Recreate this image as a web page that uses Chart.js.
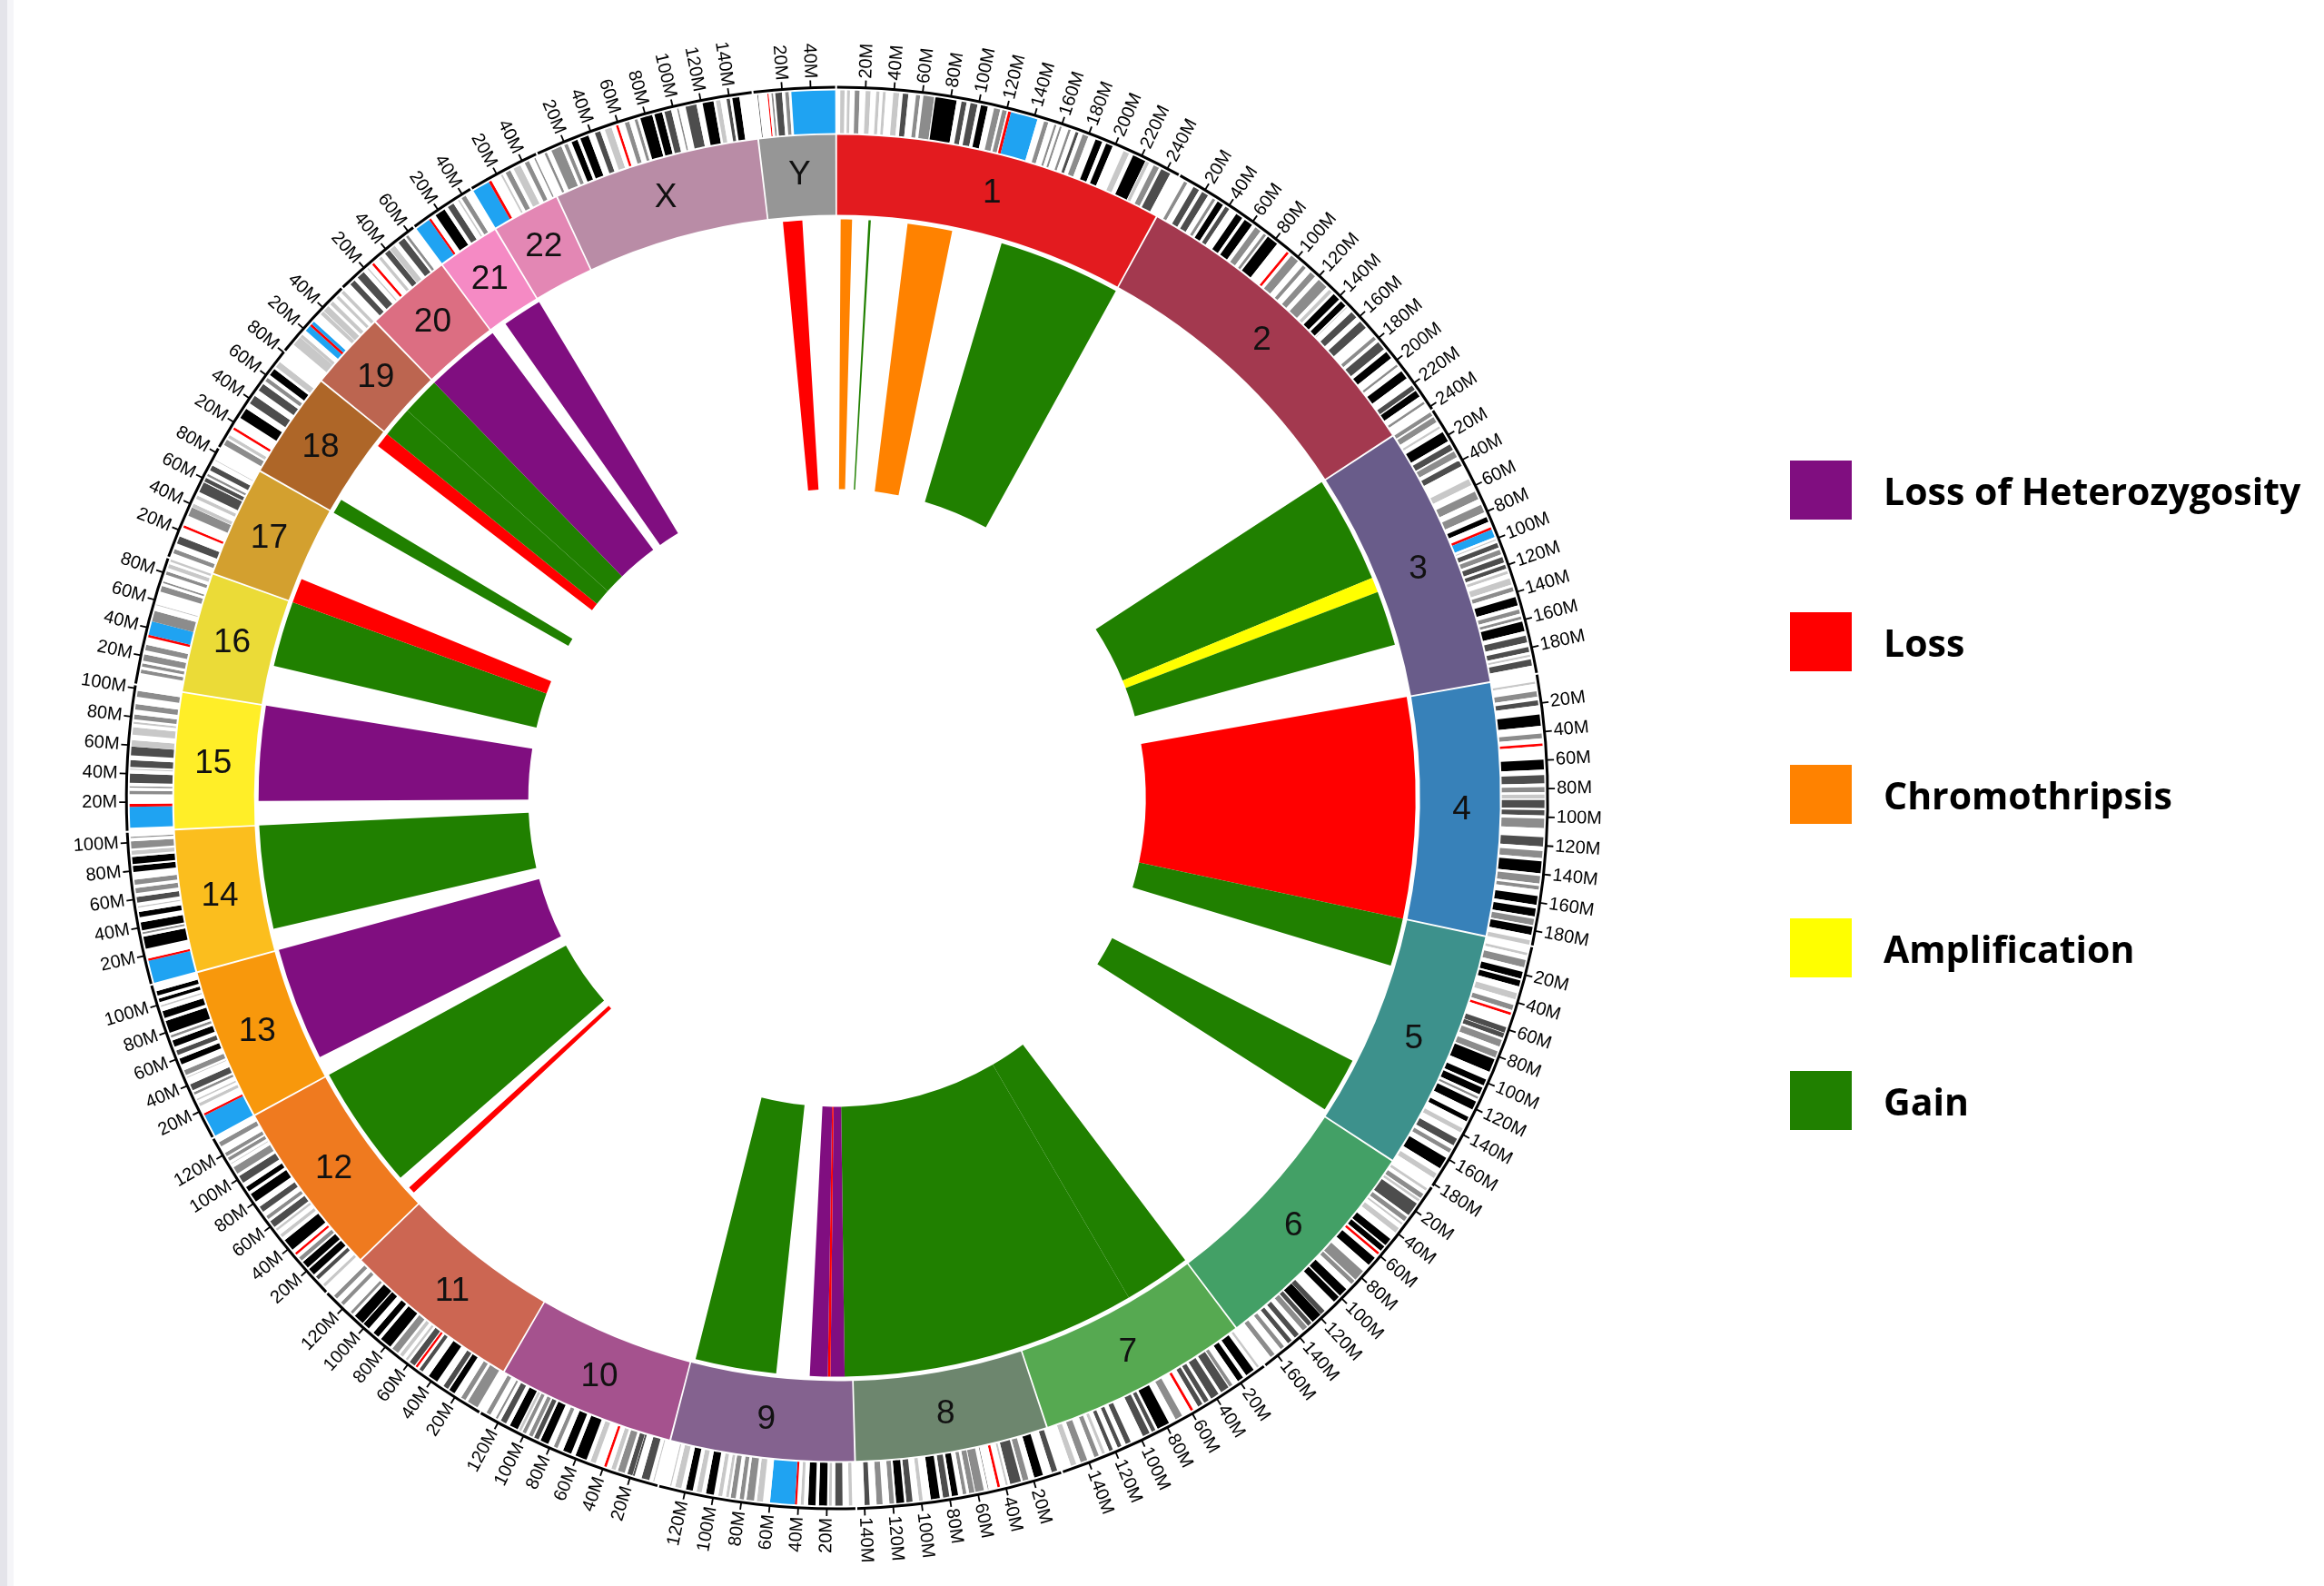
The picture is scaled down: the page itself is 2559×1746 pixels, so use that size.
<!DOCTYPE html>
<html>
<head>
<meta charset="utf-8">
<script src="https://cdn.jsdelivr.net/npm/chart.js@4.4.1/dist/chart.umd.min.js"></script>
<style>
html,body{margin:0;padding:0;background:#ffffff;width:2559px;height:1746px;overflow:hidden;}
#wrap{position:relative;width:2559px;height:1746px;}
#c{position:absolute;left:0;top:0;}
.edge1{position:absolute;left:0;top:0;width:8px;height:1746px;background:#e4e4ea;}
.edge2{position:absolute;left:8px;top:0;width:7px;height:1746px;background:#f5f5f8;}
#legend{position:absolute;left:1971px;top:0;font-family:"Open Sans",sans-serif;font-weight:700;font-size:41px;color:#000;}
.item{position:absolute;left:0;height:65px;display:flex;align-items:center;white-space:nowrap;}
.sw{width:68px;height:65px;margin-right:35px;flex:none;}
</style>
</head>
<body>
<div id="wrap">
  <div class="edge1"></div><div class="edge2"></div>
  <canvas id="c" width="2559" height="1746"></canvas>
  <div id="legend"></div>
</div>
<script>
// ---------------- DATA ----------------
const chromosomes = ['1','2','3','4','5','6','7','8','9','10','11','12','13','14','15','16','17','18','19','20','21','22','X','Y'];
const chromLengths = [248.96,242.19,198.30,190.21,181.54,170.81,159.35,145.14,138.39,133.80,135.09,133.28,114.36,107.04,101.99,90.34,83.26,80.37,58.62,64.44,46.71,50.82,156.04,57.23]; // Mb
const chromColors = ['#e31b1f','#a3394f','#695c8a','#3781b9','#3d918c','#43a066','#56a951','#6d866e','#84628f','#a5528e','#cc6652','#ef7a1f','#f8980c','#fbbe1e','#ffee28','#ebdb37','#d3a02f','#ae6628','#bc6550','#dc6e82','#f58ac4','#e387b4','#b98ca6','#969696'];
const gapMb = 1.3;        // gap between chromosomes, in Mb
const tickStep = 20;      // Mb between ticks

// cytobands: "end stain ..." (w=gneg,1=gpos25,2=gpos50,3=gpos75,4=gpos100,a=acen,v=gvar/stalk)
const cyto_1  = "2.3 w 5.3 1 7.1 w 9.1 1 12.5 w 15.9 2 20.1 w 23.6 1 27.6 w 29.9 1 32.3 w 34.3 1 39.6 w 43.7 1 46.3 w 50.2 3 55.6 w 58.5 2 60.8 w 68.5 2 69.3 w 84.4 4 87.9 w 91.5 3 94.3 w 99.3 3 101.8 w 106.7 4 111.2 w 115.6 2 117.2 w 120.4 2 121.4 w 123.4 a 142.6 v 147.5 w 150.6 2 155.1 w 156.6 2 159.1 w 160.5 2 165.5 w 167.2 2 170.9 w 173.0 3 176.1 w 180.3 2 185.8 w 190.8 4 193.8 w 198.7 4 207.1 w 211.3 1 214.4 w 223.9 4 224.4 w 226.8 1 230.5 w 234.6 2 236.4 w 243.5 3 248.96 w";
const cyto_2  = "4.4 w 6.9 2 12.0 w 16.5 3 19.0 w 23.8 3 27.7 w 29.8 2 31.8 w 36.3 4 38.3 w 41.5 3 47.5 w 52.6 4 54.7 w 61.0 4 63.9 w 68.4 2 71.3 w 73.3 2 74.8 w 83.1 4 91.8 w 93.6 a 96.0 w 102.1 2 105.3 w 106.7 w 109.4 2 113.8 w 118.1 2 121.6 w 129.1 2 131.7 w 134.3 1 136.1 w 141.5 4 143.4 w 147.9 4 149.0 w 149.6 1 154.0 w 158.9 3 162.9 w 168.9 3 177.1 w 179.7 2 182.1 w 188.5 3 191.1 w 196.6 4 202.5 w 204.1 2 208.2 w 214.5 4 220.7 w 224.3 3 225.2 w 230.1 4 234.7 w 236.4 2 242.19 w";
const cyto_3  = "2.8 2 4.0 w 8.1 2 11.6 w 13.2 1 16.3 w 23.8 4 26.3 w 30.8 3 32.0 w 36.5 2 39.3 w 43.6 3 54.0 w 58.6 1 63.8 w 69.7 2 74.1 w 79.8 2 83.5 w 87.1 4 89.0 w 91.2 w 93.0 a 98.6 v 100.3 w 101.2 1 103.1 w 106.5 3 108.2 w 111.6 2 113.7 w 117.6 3 119.3 w 122.2 3 124.1 w 126.1 1 129.5 w 134.0 1 136.0 w 139.0 2 143.1 w 149.2 4 152.3 w 155.3 2 157.3 w 159.3 2 161.0 w 167.9 4 171.2 w 176.0 3 179.3 w 183.0 3 184.8 w 186.3 1 188.2 w 192.6 3 198.3 w";
const cyto_4  = "4.5 w 6.0 1 11.3 w 15.2 2 17.8 w 21.3 3 27.7 w 35.8 4 41.2 w 44.6 2 48.2 w 50.0 a 59.5 w 66.6 4 70.5 w 76.3 3 78.9 w 82.4 2 84.1 w 86.9 1 88.0 w 93.7 3 95.1 w 98.8 3 101.1 w 107.7 2 114.1 w 120.6 3 123.8 w 128.8 2 131.1 w 139.5 4 141.5 w 146.8 2 148.5 w 151.1 2 155.6 w 161.8 4 164.5 w 170.1 4 171.9 w 176.3 2 177.5 w 183.2 4 187.1 w 190.21 1";
const cyto_5  = "4.5 w 6.3 1 9.8 w 15.0 2 18.4 w 23.3 4 24.6 w 28.9 4 33.8 w 38.4 1 42.5 w 46.1 2 48.0 w 49.8 a 58.9 w 62.9 3 63.2 w 66.7 3 68.4 w 73.3 2 76.9 w 81.4 2 82.8 w 92.3 4 98.2 w 102.8 4 104.5 w 109.6 4 111.5 w 113.1 2 115.2 w 121.4 4 127.3 w 130.6 4 136.2 w 139.5 1 144.5 w 149.8 3 152.7 w 155.7 2 159.9 w 168.5 4 172.8 w 176.6 1 181.54 w";
const cyto_6  = "2.3 w 4.2 1 7.1 w 10.6 2 11.6 w 13.4 1 15.2 w 25.2 3 27.0 w 30.4 2 32.1 w 33.5 1 36.6 w 40.5 1 46.2 w 51.8 4 52.9 w 57.0 4 58.5 w 60.3 a 63.4 w 70.0 4 75.9 w 83.9 2 84.9 w 88.0 2 93.1 w 99.5 4 100.6 w 105.5 4 114.6 w 118.3 3 118.5 w 126.1 4 127.1 w 130.3 3 131.2 w 135.2 2 139.0 w 142.8 3 145.6 w 149.0 3 152.5 w 155.5 2 161.0 w 164.5 2 170.81 w";
const cyto_7  = "2.8 w 4.5 1 7.3 w 13.8 4 16.5 w 20.9 4 25.5 w 28.0 2 28.8 w 35.0 3 37.2 w 43.3 3 45.4 w 49.0 3 50.5 w 54.0 3 58.1 w 60.0 a 67.0 w 72.2 2 77.5 w 86.4 4 88.2 w 91.1 3 92.8 w 98.0 3 107.4 w 111.2 3 114.6 w 117.4 3 121.1 w 123.8 3 127.1 w 129.2 1 131.8 w 135.1 2 140.5 w 145.4 2 148.7 w 152.6 1 159.35 w";
const cyto_8  = "2.2 w 6.2 3 12.7 w 19.0 4 23.3 w 27.4 2 28.8 w 36.5 3 38.3 w 39.7 1 43.9 w 45.7 a 52.2 w 52.6 3 55.5 w 61.6 2 62.2 w 66.0 2 68.0 w 70.5 2 73.9 w 78.3 4 80.1 w 84.6 3 86.9 w 93.3 4 99.0 w 101.6 1 106.2 w 110.5 3 112.1 w 117.7 4 119.2 w 122.5 2 127.3 w 131.5 2 136.4 w 139.9 3 145.14 w";
const cyto_9  = "2.2 w 4.6 1 9.0 w 14.2 3 16.6 w 18.5 1 19.9 w 25.6 4 28.0 w 33.2 4 36.3 w 38.4 1 41.0 w 42.5 a 60.0 v 65.0 w 69.3 1 71.3 w 76.6 2 78.5 w 81.5 2 84.3 w 87.8 2 89.2 w 91.2 1 93.9 w 96.6 1 99.8 w 105.4 4 108.5 w 112.1 1 114.9 w 119.8 4 123.1 w 127.5 1 130.3 w 131.2 1 138.39 w";
const cyto_10 = "3.0 w 3.8 1 6.6 w 12.2 3 17.3 w 18.6 3 18.9 w 22.6 3 24.6 w 29.6 2 31.3 w 34.4 1 38.0 w 39.8 a 46.1 w 49.9 1 52.9 w 61.2 4 64.5 w 70.6 4 74.9 w 77.7 2 82.0 w 87.9 4 89.5 w 92.9 3 94.1 w 97.0 2 99.3 w 101.9 2 103.0 w 104.9 1 105.8 w 111.9 4 114.9 w 119.1 3 121.7 w 123.1 2 127.5 w 130.6 2 133.8 w";
const cyto_11 = "2.8 w 10.7 2 12.7 w 16.2 2 21.7 w 26.1 4 27.2 w 31.0 3 36.4 w 43.5 4 48.8 w 51.6 3 53.4 w 55.0 a 55.8 w 60.1 3 61.9 w 63.6 1 66.1 w 68.7 1 70.5 w 75.5 2 77.4 w 85.9 4 88.3 w 92.8 4 97.2 w 102.1 4 102.9 w 110.4 4 112.5 w 114.5 2 121.2 w 123.9 2 127.8 w 130.8 2 135.09 w";
const cyto_12 = "3.3 w 5.4 1 10.1 w 12.8 3 14.8 w 20.0 4 21.3 w 26.5 4 27.8 w 30.7 2 33.3 w 35.0 a 37.8 w 46.4 4 49.1 w 51.5 1 54.9 w 56.6 1 58.1 w 63.1 3 65.1 w 67.7 2 71.5 w 75.7 3 80.3 w 86.7 4 89.0 w 92.6 4 96.2 w 101.6 3 103.8 w 109.0 2 111.7 w 112.3 1 114.3 w 116.8 2 118.1 w 120.7 2 125.9 w 129.3 2 133.28 w";
const cyto_13 = "16.0 v 17.6 a 23.3 w 25.5 1 27.8 w 28.9 1 32.2 w 34.0 2 35.5 w 40.1 3 45.2 w 45.8 1 47.3 w 50.9 2 55.3 w 59.6 4 62.3 w 65.7 3 68.6 w 73.3 4 75.4 w 77.2 2 79.0 w 87.7 4 90.0 w 95.0 4 98.2 w 99.3 1 101.7 w 104.2 4 106.4 w 109.6 4 114.36 w";
const cyto_14 = "16.0 v 17.6 a 24.6 w 33.3 4 35.3 w 36.6 2 37.8 w 43.5 4 47.2 w 50.9 4 54.1 w 55.0 1 57.6 w 61.6 3 64.3 w 67.9 2 70.2 w 73.8 2 79.3 w 83.6 4 84.9 w 89.8 4 91.4 w 94.3 1 95.8 w 100.8 2 103.2 w 104.0 2 107.04 w";
const cyto_15 = "2.0 w 16.8 v 18.8 a 25.7 w 28.1 2 30.3 w 31.2 2 33.6 w 40.1 3 42.8 w 43.6 1 44.8 w 49.5 3 52.9 w 59.1 3 59.3 w 63.7 1 67.5 w 72.7 1 75.2 w 76.6 1 78.3 w 81.7 2 85.2 w 89.1 2 94.3 w 98.5 2 101.99 w";
const cyto_16 = "7.8 w 10.4 2 12.5 w 14.7 2 16.7 w 21.2 2 24.2 w 28.1 2 33.4 w 35.2 a 45.0 v 52.6 2 56.7 w 57.4 1 66.7 w 70.8 2 72.9 w 74.1 2 79.2 w 81.6 2 84.1 w 87.0 1 88.7 w 90.34 1";
const cyto_17 = "3.4 w 6.5 2 10.8 w 16.1 3 22.7 w 24.4 a 31.8 w 38.1 2 38.4 w 40.9 1 44.9 w 47.4 1 50.2 w 57.6 3 58.3 w 61.1 3 62.6 w 64.2 2 67.1 w 70.9 3 74.8 w 75.3 1 83.26 w";
const cyto_18 = "2.9 w 7.1 2 8.5 w 10.9 1 15.4 w 17.2 a 25.0 w 32.7 4 37.2 w 43.5 3 48.2 w 53.8 3 56.2 w 59.0 2 61.6 w 66.8 4 68.7 w 73.1 1 80.37 w";
const cyto_19 = "6.9 w 13.9 1 14.0 w 16.3 1 20.0 w 24.4 v 26.2 a 28.6 v 32.4 w 35.5 w 38.3 1 38.7 w 43.4 1 45.2 w 48.0 1 51.4 w 53.6 1 56.3 w 58.62 1";
const cyto_20 = "5.1 w 9.2 3 12.1 w 17.9 3 21.3 w 22.3 1 25.7 w 27.5 a 32.1 w 34.4 1 37.6 w 41.7 3 42.1 w 46.4 1 49.8 w 55.0 3 56.5 w 58.4 2 64.44 w";
const cyto_21 = "10.9 v 12.5 a 16.4 w 24.0 4 26.8 w 31.5 3 35.3 w 36.4 1 38.3 w 41.6 2 46.71 w";
const cyto_22 = "12.5 v 14.5 a 22.2 w 23.5 1 25.9 w 29.6 2 32.2 w 37.6 1 41.0 w 44.2 2 48.4 w 49.4 2 50.82 w";
const cyto_X  = "4.3 w 6.0 2 9.5 w 17.1 2 19.3 w 21.9 2 24.9 w 29.3 4 31.5 w 37.6 4 42.4 w 46.4 3 49.8 w 54.8 1 58.1 w 59.8 a 64.6 w 67.8 2 71.8 w 73.9 2 76.0 w 84.6 4 86.2 w 91.8 4 93.5 w 98.3 3 102.6 w 103.7 2 108.7 w 116.5 3 120.9 w 128.7 4 130.4 w 133.6 1 138.0 w 140.3 3 142.1 w 147.1 4 156.04 w";
const cyto_Y  = "2.5 w 3.0 3 9.6 w 10.4 a 12.4 w 13.6 2 15.1 w 19.8 3 22.1 w 24.6 2 26.4 w 57.23 v";
const cytobandStrings = [cyto_1,cyto_2,cyto_3,cyto_4,cyto_5,cyto_6,cyto_7,cyto_8,cyto_9,cyto_10,cyto_11,cyto_12,cyto_13,cyto_14,cyto_15,cyto_16,cyto_17,cyto_18,cyto_19,cyto_20,cyto_21,cyto_22,cyto_X,cyto_Y];
const stainNames  = ['w','1','2','3','4','a','v'];
const stainColors = ['#ffffff','#c8c8c8','#8c8c8c','#4d4d4d','#000000','#ff0000','#1fa3f2'];

// copy-number events (chromosome, start Mb, end Mb, type)
const cnvChrom = ['1','1','1','1','3','3','3','4','5','5','7','7','8','9','9','9','9','9','12','12','13','14','15','16','17','18','18','19','19','20','21','Y'];
const cnvStart = [3.1,27.0,60.7,143.2, 0,92.5,105.5, 0, 0,129.0, 0,57.5, 0, 0,6.3,18.5,20.8,65.2, 9.0,26.2,16.4,18.0,20.4,34.0, 0, 0,68.2, 0,26.0, 0,13.0,12.0];
const cnvEnd   = [12.9,29.0,99.5,248.96, 92.5,105.5,153.0, 190.21, 41.0,177.0, 57.5,159.35, 145.14, 6.3,18.5,20.8,36.3,135.5, 15.0,133.28,114.36,107.04,101.99,90.34, 20.6,12.2,80.37, 26.0,58.62, 64.44,46.71,28.7];
const cnvType  = ['C','G','C','G','G','A','G','L','G','G','G','G','G','G','H','L','H','G','L','G','H','G','H','G','L','G','L','G','G','H','H','L'];

const legendKeys   = ['H','L','C','A','G'];
const legendLabels = ['Loss of Heterozygosity','Loss','Chromothripsis','Amplification','Gain'];
const legendColors = ['#800e80','#ff0000','#ff8200','#ffff00','#208000'];

// ---------------- BUILD ----------------
const CLEAR = 'rgba(0,0,0,0)';
const typeColor = {}; legendKeys.forEach((k,i)=>typeColor[k]=legendColors[i]);

function ringData(colorOf){
  const d=[], c=[];
  chromLengths.forEach((L,j)=>{ d.push(L); c.push(colorOf(j)); d.push(gapMb); c.push(CLEAR); });
  return {d,c};
}
const outline = ringData(()=> '#000000');
const chromRing = ringData(j=> chromColors[j]);

const ideoD=[], ideoC=[];
cytobandStrings.forEach((s,j)=>{
  const L = chromLengths[j];
  const t = s.trim().split(/\s+/);
  let prev = 0;
  for(let i=0;i<t.length;i+=2){
    const end = Math.min(parseFloat(t[i]), L);
    if(end>prev){ ideoD.push(end-prev); ideoC.push(stainColors[stainNames.indexOf(t[i+1])]); prev=end; }
  }
  if(prev<L){ ideoD.push(L-prev); ideoC.push('#ffffff'); }
  ideoD.push(gapMb); ideoC.push(CLEAR);
});

// CNV track: segments per chromosome; the track is continuous across chromosome gaps
const perChrom = chromosomes.map((name,j)=>{
  const L = chromLengths[j];
  const ev = [];
  cnvChrom.forEach((c,i)=>{ if(c===name) ev.push(i); });
  ev.sort((a,b)=>cnvStart[a]-cnvStart[b]);
  const segs=[]; let pos = 0;
  ev.forEach(i=>{
    const s=Math.max(cnvStart[i],pos), e=Math.min(cnvEnd[i],L);
    if(s>pos){ segs.push({v:s-pos,c:CLEAR}); }
    if(e>s){ segs.push({v:e-s,c:typeColor[cnvType[i]]}); pos=e; }
  });
  if(pos<L){ segs.push({v:L-pos,c:CLEAR}); }
  return segs;
});
const cnvFlat = [];
let carry = 0, mergeNext = false;
perChrom.forEach((segs,j)=>{
  segs.forEach((sg,k)=>{
    if(k===0 && mergeNext){ cnvFlat[cnvFlat.length-1].v += sg.v; }
    else { cnvFlat.push({v:sg.v + (k===0?carry:0), c:sg.c}); }
  });
  carry = 0; mergeNext = false;
  const last = cnvFlat[cnvFlat.length-1];
  if(j===perChrom.length-1){ last.v += gapMb; return; }
  const first = perChrom[j+1][0];
  if(first.c===last.c){ last.v += gapMb; mergeNext = true; }
  else { last.v += gapMb/2; carry = gapMb/2; }
});
const cnvD = cnvFlat.map(o=>o.v), cnvC = cnvFlat.map(o=>o.c);

const spacer = w => ({data:[1], backgroundColor:[CLEAR], weight:w});
const RING_IDX = 4;

const circosLabels = {
  id:'circosLabels',
  afterDatasetsDraw(chart){
    const ctx = chart.ctx;
    const ringMeta = chart.getDatasetMeta(RING_IDX);
    const outMeta = chart.getDatasetMeta(0);
    ctx.save();
    chromosomes.forEach((name,j)=>{
      const arc = ringMeta.data[2*j];
      const {x,y,startAngle,endAngle,innerRadius,outerRadius} = arc;
      const L = chromLengths[j];
      const per = (endAngle-startAngle)/L;
      // chromosome name
      const mid = (startAngle+endAngle)/2;
      const rl = (innerRadius+outerRadius)/2 + 2;
      ctx.fillStyle = '#111111';
      ctx.font = '37px "Liberation Sans", Arial, sans-serif';
      ctx.textAlign = 'center'; ctx.textBaseline = 'middle';
      ctx.fillText(name, x+rl*Math.cos(mid), y+rl*Math.sin(mid)+1);
      // ticks + labels
      const r0 = outMeta.data[2*j].outerRadius - 1.5;
      ctx.strokeStyle = '#000000'; ctx.lineWidth = 1.8;
      ctx.font = '20px "Liberation Sans", Arial, sans-serif';
      ctx.textBaseline = 'middle';
      for(let p=tickStep; p<L; p+=tickStep){
        const a = startAngle + p*per;
        const ca=Math.cos(a), sa=Math.sin(a);
        ctx.beginPath();
        ctx.moveTo(x+r0*ca, y+r0*sa);
        ctx.lineTo(x+(r0+8)*ca, y+(r0+8)*sa);
        ctx.stroke();
        const rt = r0+10;
        ctx.save();
        ctx.translate(x+rt*ca, y+rt*sa);
        let tn = a + Math.PI/2; tn = ((tn % (2*Math.PI)) + 2*Math.PI) % (2*Math.PI);
        if(tn < Math.PI){ ctx.rotate(a); ctx.textAlign='left'; }
        else { ctx.rotate(a+Math.PI); ctx.textAlign='right'; }
        ctx.fillStyle='#000000';
        ctx.fillText(p+'M', 0, 0);
        ctx.restore();
      }
    });
    ctx.restore();
  }
};

new Chart(document.getElementById('c'), {
  type:'doughnut',
  data:{
    datasets:[
      {data:outline.d, backgroundColor:outline.c, weight:3},
      spacer(2),
      {data:ideoD, backgroundColor:ideoC, weight:47},
      spacer(2),
      {data:chromRing.d, backgroundColor:chromRing.c, weight:88},
      spacer(5),
      {data:cnvD, backgroundColor:cnvC, weight:297}
    ]
  },
  options:{
    responsive:false,
    animation:false,
    events:[],
    radius:784,
    cutout:(340/784*100)+'%',
    layout:{padding:{left:0,right:715.6,top:11,bottom:0}},
    elements:{arc:{borderWidth:0}},
    plugins:{legend:{display:false},tooltip:{enabled:false}}
  },
  plugins:[circosLabels]
});

// legend (HTML)
const lg = document.getElementById('legend');
const legendTops = [507,674,842,1011,1179];
legendLabels.forEach((t,i)=>{
  const it = document.createElement('div');
  it.className='item'; it.style.top = legendTops[i]+'px';
  const sw = document.createElement('div'); sw.className='sw'; sw.style.background = legendColors[i];
  const sp = document.createElement('span'); sp.textContent = t;
  it.appendChild(sw); it.appendChild(sp); lg.appendChild(it);
});
</script>
</body>
</html>
